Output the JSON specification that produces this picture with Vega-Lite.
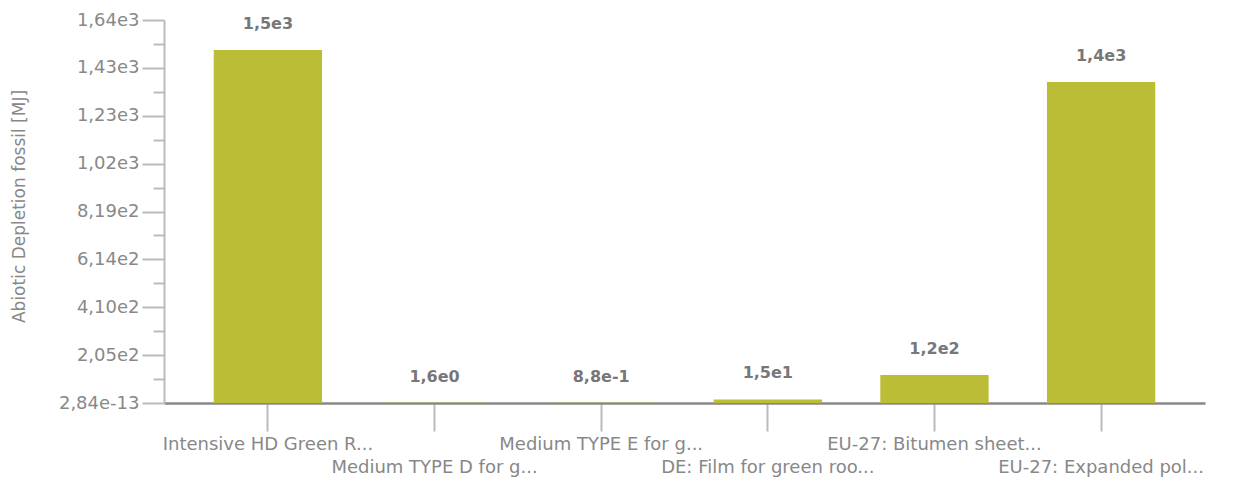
{
  "$schema": "https://vega.github.io/schema/vega-lite/v6.json",
  "width": 1041,
  "height": 383,
  "autosize": "none",
  "padding": {"left": 164, "top": 20, "right": 29, "bottom": 88},
  "background": "white",
  "config": {"view": {"stroke": null}, "font": "DejaVu Sans"},
  "data": {"values": [
    {"item": "Intensive HD Green R...", "value": 1510, "label": "1,5e3"},
    {"item": "Medium TYPE D for g...", "value": 1.6, "label": "1,6e0"},
    {"item": "Medium TYPE E for g...", "value": 0.88, "label": "8,8e-1"},
    {"item": "DE: Film for green roo...", "value": 15, "label": "1,5e1"},
    {"item": "EU-27: Bitumen sheet...", "value": 120, "label": "1,2e2"},
    {"item": "EU-27: Expanded pol...", "value": 1373, "label": "1,4e3"}
  ]},
  "encoding": {
    "x": {
      "field": "item", "type": "nominal", "sort": null,
      "scale": {"paddingInner": 0.35, "paddingOuter": 0.2985},
      "axis": {
        "title": null, "labelAngle": 0, "tickSize": 28, "tickColor": "#bbbbbb", "tickWidth": 2,
        "domainColor": "#888888", "domainWidth": 2.5, "labelFontSize": 18, "labelColor": "#888888",
        "labelPadding": 4, "labelLineHeight": 23, "labelLimit": 0, "labelOverlap": false, "grid": false,
        "labelExpr": "indexof(['Medium TYPE D for g...','DE: Film for green roo...','EU-27: Expanded pol...'], datum.value) >= 0 ? ['', datum.label] : datum.label"
      }
    }
  },
  "layer": [
    {
      "mark": {"type": "bar", "color": "#bcbd36"},
      "encoding": {
        "y": {
          "field": "value", "type": "quantitative",
          "scale": {"domain": [0, 1638], "nice": false, "zero": true},
          "axis": {
            "title": "Abiotic Depletion fossil [MJ]",
            "values": [0, 204.75, 409.5, 614.25, 819, 1023.75, 1228.5, 1433.25, 1638],
            "labelExpr": "datum.value == 0 ? '2,84e-13' : replace(replace(format(datum.value, '.2e'), '.', ','), 'e+', 'e')",
            "tickSize": 22, "tickColor": "#bbbbbb", "tickWidth": 2,
            "domainColor": "#bbbbbb", "domainWidth": 2,
            "labelFontSize": 18, "labelColor": "#888888", "labelPadding": 3,
            "titleFontSize": 17, "titleFontWeight": "normal", "titleColor": "#888888", "titlePadding": 30,
            "titleY": 186,
            "grid": false
          }
        }
      }
    },
    {
      "mark": {"type": "text", "baseline": "bottom", "dy": -18, "fontWeight": "bold", "fontSize": 16, "color": "#777777"},
      "encoding": {
        "y": {
          "field": "value", "type": "quantitative",
          "axis": {
            "orient": "left",
            "values": [102.375, 307.125, 511.875, 716.625, 921.375, 1126.125, 1330.875, 1535.625],
            "tickSize": 11, "tickColor": "#bbbbbb", "tickWidth": 2,
            "labels": false, "domain": false, "title": null, "grid": false
          }
        },
        "text": {"field": "label"}
      }
    }
  ],
  "resolve": {"axis": {"y": "independent"}}
}
